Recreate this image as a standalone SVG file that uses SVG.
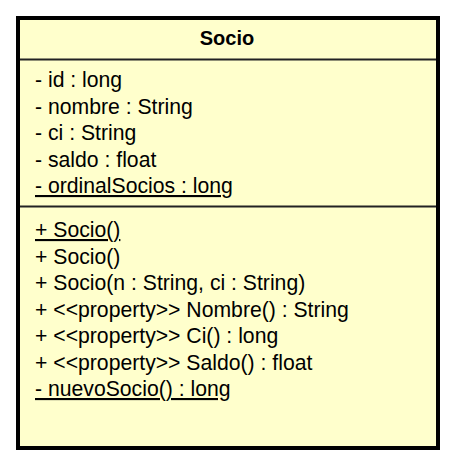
<svg xmlns="http://www.w3.org/2000/svg" width="455" height="464" viewBox="0 0 455 464">
<style>
.t{font-family:"Liberation Sans",Arial,sans-serif;font-size:21.2px;fill:#000}
.b{font-weight:bold;font-size:20px}
.u{text-decoration:underline}
.sep{stroke:#222;stroke-width:2}
</style>
<rect width="455" height="464" fill="#fff"/>
<g id="Socio">
<rect x="18" y="18" width="420" height="430" fill="#FFFFCC" stroke="#000" stroke-width="4"/>
<text class="t b" x="227" y="45" text-anchor="middle">Socio</text>
<line class="sep" x1="20" y1="59.5" x2="436" y2="59.5"/>
<text class="t" x="35" y="87">- id : long</text>
<text class="t" x="35" y="113.5">- nombre : String</text>
<text class="t" x="35" y="140">- ci : String</text>
<text class="t" x="35" y="167">- saldo : float</text>
<text class="t u" x="35" y="193">- ordinalSocios : long</text>
<line class="sep" x1="20" y1="206.5" x2="436" y2="206.5"/>
<text class="t u" x="35" y="237">+ Socio()</text>
<text class="t" x="35" y="263.5">+ Socio()</text>
<text class="t" x="35" y="290">+ Socio(n : String, ci : String)</text>
<text class="t" x="35" y="316.5">+ &lt;&lt;property&gt;&gt; Nombre() : String</text>
<text class="t" x="35" y="343">+ &lt;&lt;property&gt;&gt; Ci() : long</text>
<text class="t" x="35" y="369.5">+ &lt;&lt;property&gt;&gt; Saldo() : float</text>
<text class="t u" x="35" y="396">- nuevoSocio() : long</text>
</g>
<g id="connectors"/>
</svg>
